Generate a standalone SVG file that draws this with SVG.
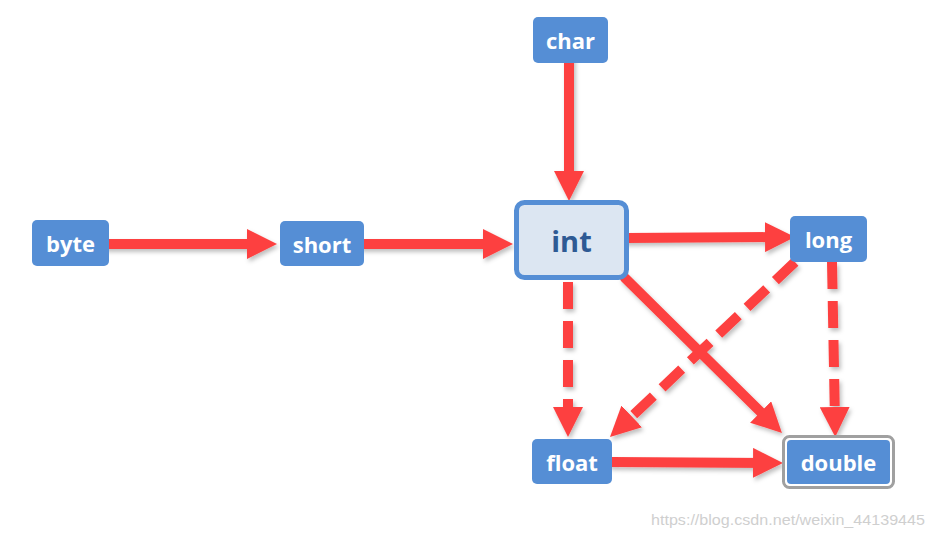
<svg xmlns="http://www.w3.org/2000/svg" width="932" height="538" viewBox="0 0 932 538">
<defs>
<style>
.n{fill:#558ed5;}
.t{font-family:"Open Sans","Lato",sans-serif;font-weight:bold;font-size:22px;fill:#ffffff;text-anchor:middle;dominant-baseline:central;}
.c{stroke:#fd4141;stroke-width:10;fill:none;marker-end:url(#ah);}
.d{stroke-dasharray:27 12;}
</style>
<marker id="ah" viewBox="0 0 30 30" refX="15" refY="15" markerWidth="30" markerHeight="30" markerUnits="userSpaceOnUse" orient="auto">
<path d="M0,0 L30,15 L0,30 Z" fill="#fd4141"/>
</marker>
<filter id="sh" x="-10%" y="-10%" width="120%" height="120%">
<feDropShadow dx="2" dy="3" stdDeviation="2" flood-color="#000" flood-opacity="0.25"/>
</filter>
</defs>
<rect width="932" height="538" fill="#ffffff"/>
<g id="connectors" filter="url(#sh)">
<path class="c" d="M106,244 L262,244" stroke-linecap="round"/>
<path class="c" d="M362,244 L498,244" stroke-linecap="round"/>
<path class="c" d="M569,60 L569,186" stroke-linecap="round"/>
<path class="c" d="M626,238 L780,237" stroke-linecap="round"/>
<path class="c" d="M625,278 L771.3,422.5" stroke-linecap="round"/>
<path class="c d" d="M795,262 L620.9,426.7"/>
<path class="c d" d="M832,262 L835,422"/>
<path class="c d" d="M568,282 L568,422"/>
<path class="c" d="M612,462 L768,463" stroke-linecap="round"/>
</g>
<g id="byte"><rect class="n" x="32" y="220" width="77" height="46" rx="5"/><text class="t" x="70.5" y="243">byte</text></g>
<g id="short"><rect class="n" x="280" y="221" width="84" height="45" rx="5"/><text class="t" x="322" y="243.5">short</text></g>
<g id="char"><rect class="n" x="533" y="17" width="75" height="46" rx="5"/><text class="t" x="570.5" y="40">char</text></g>
<g id="int"><rect x="516.5" y="202.5" width="110" height="75" rx="8" fill="#dce6f2" stroke="#558ed5" stroke-width="5"/><text class="t" x="571.5" y="240" style="font-size:29px;fill:#2e5a94">int</text></g>
<g id="long"><rect class="n" x="790" y="216" width="77" height="46" rx="5"/><text class="t" x="828.5" y="239">long</text></g>
<g id="float"><rect class="n" x="532" y="439" width="80" height="45" rx="5"/><text class="t" x="572" y="461.5">float</text></g>
<g id="double"><rect x="783.5" y="436.5" width="110" height="51" rx="6" fill="#ffffff" stroke="#a0a0a0" stroke-width="3"/><rect class="n" x="787" y="440" width="103" height="44" rx="4"/><text class="t" x="838.5" y="462">double</text></g>
<text x="651" y="525" font-family="Liberation Sans, Arial, sans-serif" font-size="15.5" fill="#cfcfcf" textLength="274" lengthAdjust="spacingAndGlyphs">https://blog.csdn.net/weixin_44139445</text>
</svg>
